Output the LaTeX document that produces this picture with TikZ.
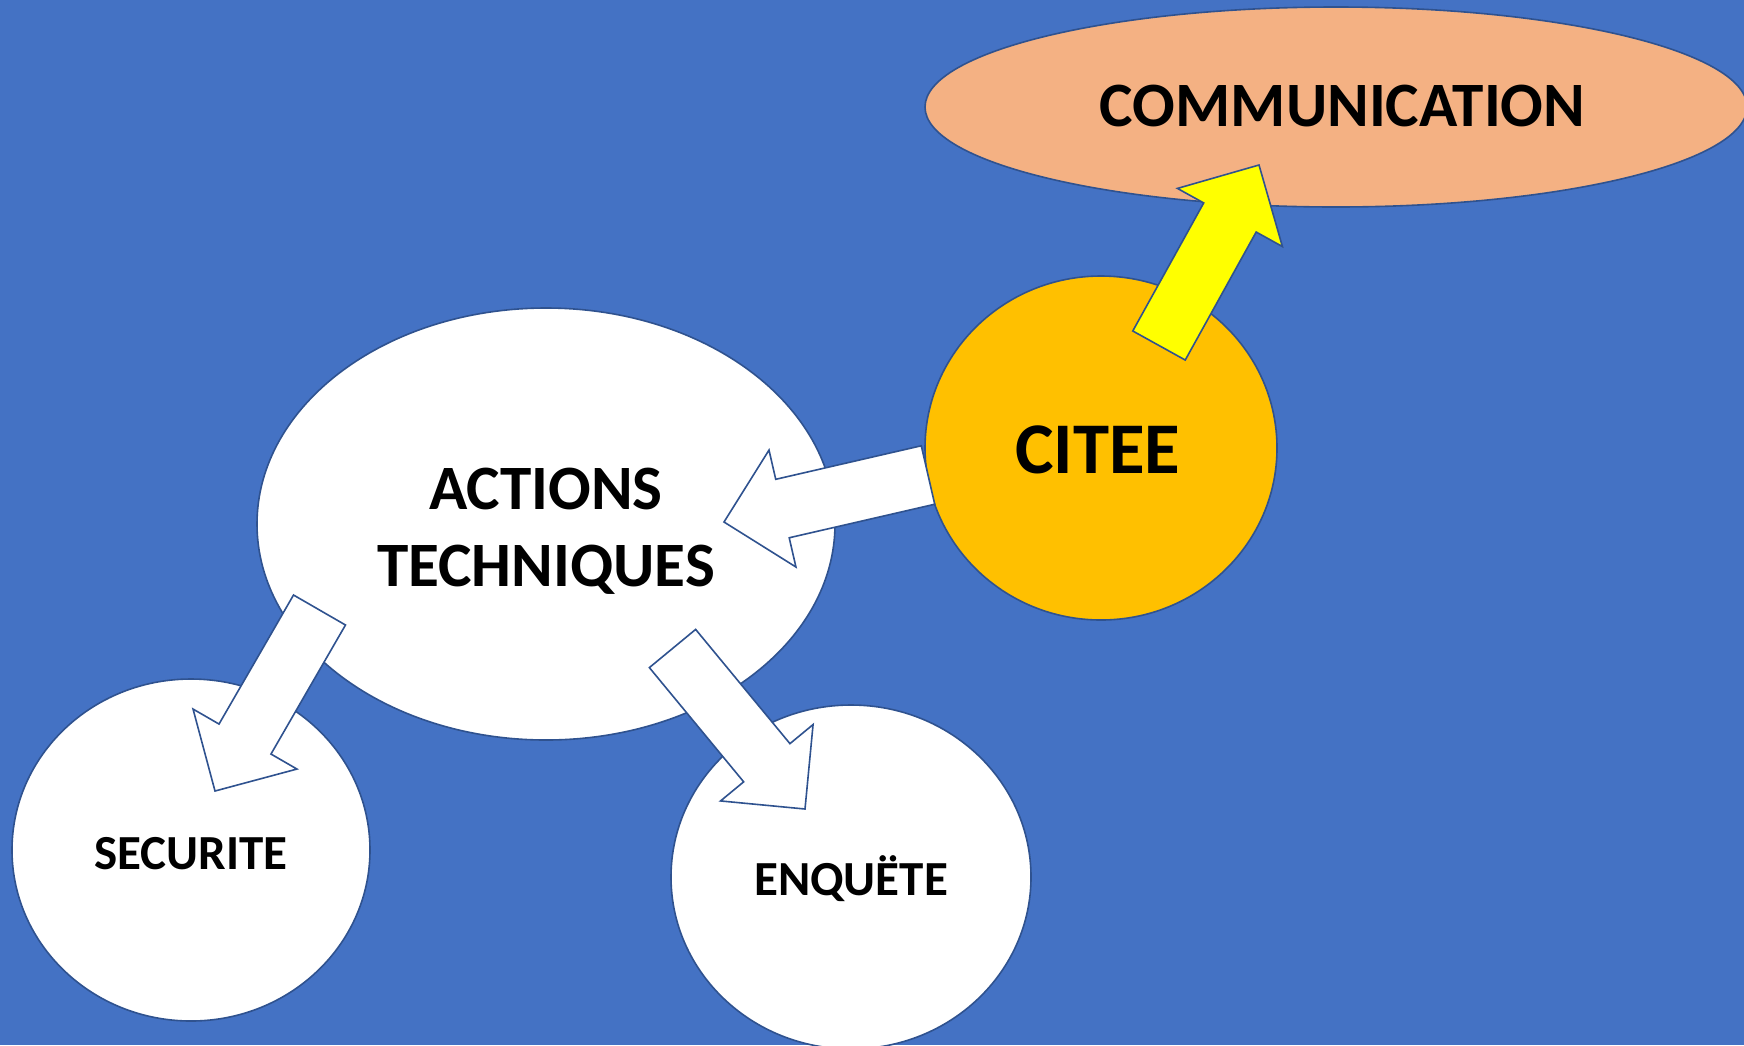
\documentclass[tikz,border=0pt]{standalone}
\usepackage{fontspec}
\setmainfont{Carlito}
\usetikzlibrary{shapes.geometric,calc}
\definecolor{bgblue}{HTML}{4472C4}
\definecolor{edgeblue}{HTML}{2F528F}
\definecolor{commfill}{HTML}{F4B183}
\definecolor{citeefill}{HTML}{FFC000}
\definecolor{arrowyellow}{HTML}{FFFF00}
\tikzset{
  bubble/.style={ellipse, draw=edgeblue, line width=0.8pt, inner sep=0pt},
  caption/.style={inner sep=0pt, align=center, font=\bfseries},
  blockline/.style={draw=edgeblue, line width=0.8pt, line join=miter},
}
\newcommand\blockarr[3]{%
  \coordinate (H) at ($(#2)!30pt!(#1)$);
  \path[blockline, fill=#3]
    ($(#1)!15pt!90:(#2)$) -- ($(H)!15pt!-90:(#1)$) -- ($(H)!30pt!-90:(#1)$) --
    (#2) -- ($(H)!30pt!90:(#1)$) -- ($(H)!15pt!90:(#1)$) -- ($(#1)!15pt!-90:(#2)$) -- cycle;
}
\begin{document}
\begin{tikzpicture}[x=0.5pt, y=-0.5pt]
\useasboundingbox (0,0) rectangle (1744,1045);
\clip (0,0) rectangle (1744,1045);
\fill[bgblue] (0,0) rectangle (1744,1045);

\node[bubble, fill=commfill, minimum width=411pt, minimum height=100pt] (comm) at (1336,107) {};
\node[bubble, fill=citeefill, minimum width=176pt, minimum height=172pt] (citee) at (1101,448) {};
\node[bubble, fill=white, minimum width=289pt, minimum height=216pt] (actions) at (546,524) {};
\node[bubble, fill=white, minimum width=179pt, minimum height=171pt] (secu) at (191,850) {};
\node[bubble, fill=white, minimum width=180pt, minimum height=172pt] (enq) at (851,877) {};

\node[caption, font=\bfseries\fontsize{31.6}{38}\selectfont, xshift=3.3pt, yshift=0.5pt] (commtext) at (comm) {COMMUNICATION};
\node[caption, font=\bfseries\fontsize{36.4}{44}\selectfont, xshift=-1.6pt, yshift=-1pt] (citeetext) at (citee) {CITEE};
\node[caption, font=\bfseries\fontsize{31.6}{38.5}\selectfont, yshift=-3.6pt] (actionstext) at (actions) {ACTIONS\\TECHNIQUES};
\node[caption, font=\bfseries\fontsize{24.5}{30}\selectfont, yshift=-1.7pt] (secutext) at (secu) {SECURITE};
\node[caption, font=\bfseries\fontsize{24.5}{30}\selectfont, yshift=-1pt] (enqtext) at (enq) {ENQUËTE};

\coordinate (t1) at (928,475);   \coordinate (p1) at (724,522);
\coordinate (t2) at (1159,345.5); \coordinate (p2) at (1259,165);
\coordinate (t3) at (319.5,610); \coordinate (p3) at (215,791);
\coordinate (t4) at (672.5,648.5); \coordinate (p4) at (805,809);

\blockarr{t1}{p1}{white}
\blockarr{t2}{p2}{arrowyellow}
\blockarr{t3}{p3}{white}
\blockarr{t4}{p4}{white}
\end{tikzpicture}
\end{document}
